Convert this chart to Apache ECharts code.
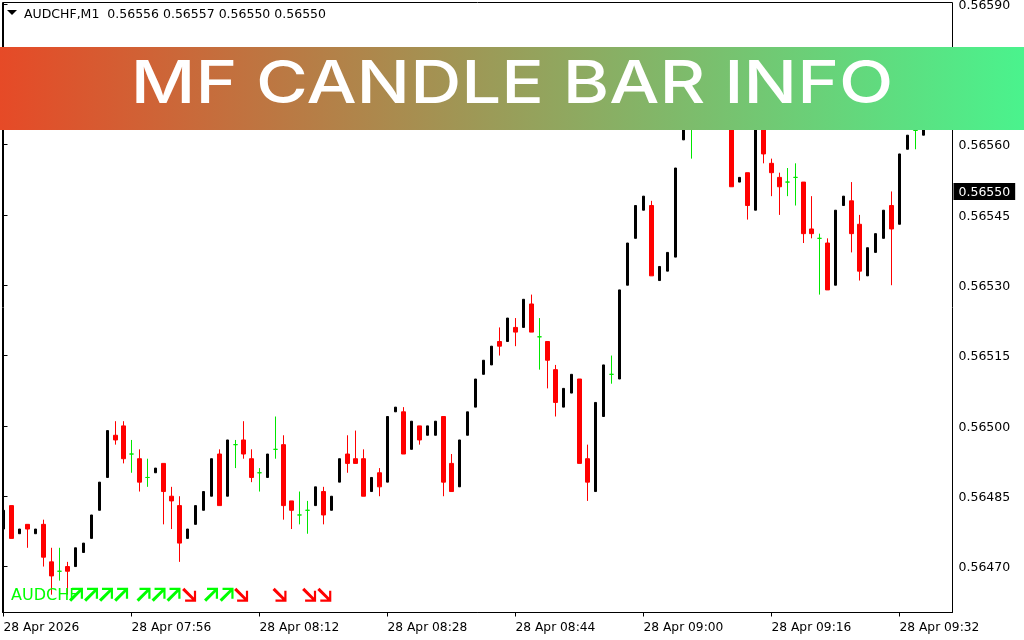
<!DOCTYPE html>
<html>
<head>
<meta charset="utf-8">
<title>MF Candle Bar Info</title>
<style>
html,body{margin:0;padding:0;background:#fff;}
#chart{width:1024px;height:640px;}
</style>
<script src="https://cdn.jsdelivr.net/npm/echarts@6/dist/echarts.min.js"></script>
</head>
<body>
<div id="chart"></div>
<script>
// one minute bars, 07:40 to 09:35
var opens = [0.56478,0.56483,0.56477,0.56479,0.56477,0.56479,0.56471,0.56469,0.56470,0.56470,
0.56473,0.56476,0.56482,0.56489,0.56498,0.56500,0.56494,0.56493,0.56489,0.56490,
0.56492,0.56485,0.56483,0.56476,0.56479,0.56482,0.56485,0.56494,0.56485,0.56496,
0.56497,0.56493,0.56490,0.56489,0.56495,0.56496,0.56484,0.56481,0.56482,0.56483,
0.56486,0.56482,0.56488,0.56494,0.56493,0.56493,0.56486,0.56490,0.56488,0.56503,
0.56503,0.56495,0.56500,0.56498,0.56498,0.56502,0.56492,0.56487,0.56498,0.56504,
0.56511,0.56513,0.56518,0.56518,0.56521,0.56521,0.56526,0.56519,0.56518,0.56512,
0.56504,0.56507,0.56510,0.56493,0.56486,0.56502,0.56511,0.56510,0.56530,0.56540,
0.56546,0.56547,0.56531,0.56533,0.56536,0.56561,0.56565,0.56572,0.56577,0.56570,
0.56574,0.56572,0.56552,0.56554,0.56546,0.56568,0.56556,0.56553,0.56552,0.56553,
0.56552,0.56542,0.56540,0.56539,0.56530,0.56547,0.56548,0.56543,0.56532,0.56537,
0.56540,0.56547,0.56543,0.56559,0.56563,0.56562];
var closes = [0.56482,0.56476,0.56478,0.56478,0.56478,0.56472,0.56468,0.56469,0.56469,0.56474,
0.56475,0.56481,0.56488,0.56499,0.56497,0.56493,0.56494,0.56488,0.56489,0.56491,
0.56486,0.56484,0.56475,0.56478,0.56483,0.56486,0.56493,0.56483,0.56497,0.56496,
0.56494,0.56489,0.56490,0.56494,0.56495,0.56483,0.56482,0.56481,0.56482,0.56487,
0.56481,0.56485,0.56493,0.56492,0.56492,0.56485,0.56489,0.56487,0.56502,0.56504,
0.56494,0.56501,0.56497,0.56500,0.56501,0.56488,0.56486,0.56497,0.56503,0.56510,
0.56514,0.56517,0.56517,0.56523,0.56520,0.56527,0.56520,0.56519,0.56514,0.56505,
0.56508,0.56511,0.56492,0.56488,0.56505,0.56513,0.56511,0.56529,0.56539,0.56547,
0.56549,0.56532,0.56534,0.56537,0.56555,0.56567,0.56565,0.56578,0.56570,0.56579,
0.56580,0.56551,0.56553,0.56547,0.56570,0.56558,0.56554,0.56551,0.56552,0.56553,
0.56541,0.56541,0.56540,0.56529,0.56546,0.56549,0.56541,0.56533,0.56538,0.56541,
0.56546,0.56542,0.56558,0.56562,0.56563,0.56565];
var lows = [0.56478,0.56476,0.56477,0.56474,0.56477,0.56470,0.56464,0.56467,0.56464,0.56470,
0.56473,0.56476,0.56482,0.56489,0.56496,0.56492,0.56490,0.56486,0.56487,0.56490,
0.56479,0.56478,0.56471,0.56476,0.56479,0.56482,0.56485,0.56483,0.56485,0.56491,
0.56493,0.56488,0.56486,0.56489,0.56493,0.56480,0.56478,0.56479,0.56477,0.56483,
0.56479,0.56482,0.56488,0.56490,0.56492,0.56485,0.56486,0.56485,0.56488,0.56503,
0.56494,0.56495,0.56496,0.56498,0.56498,0.56485,0.56486,0.56487,0.56498,0.56504,
0.56511,0.56513,0.56515,0.56518,0.56517,0.56521,0.56520,0.56512,0.56508,0.56502,
0.56504,0.56507,0.56492,0.56484,0.56486,0.56502,0.56509,0.56510,0.56530,0.56540,
0.56546,0.56532,0.56531,0.56533,0.56536,0.56561,0.56557,0.56572,0.56570,0.56570,
0.56574,0.56551,0.56552,0.56544,0.56546,0.56556,0.56549,0.56545,0.56549,0.56547,
0.56539,0.56540,0.56528,0.56529,0.56530,0.56547,0.56537,0.56531,0.56532,0.56537,
0.56540,0.56530,0.56543,0.56559,0.56559,0.56562];
var highs = [0.56482,0.56483,0.56478,0.56479,0.56478,0.56480,0.56474,0.56474,0.56471,0.56474,
0.56475,0.56481,0.56488,0.56499,0.56501,0.56501,0.56497,0.56495,0.56493,0.56491,
0.56492,0.56487,0.56485,0.56478,0.56483,0.56486,0.56493,0.56495,0.56497,0.56497,
0.56501,0.56495,0.56491,0.56494,0.56502,0.56498,0.56484,0.56486,0.56484,0.56487,
0.56487,0.56485,0.56493,0.56498,0.56499,0.56495,0.56489,0.56491,0.56502,0.56504,
0.56504,0.56501,0.56500,0.56500,0.56501,0.56502,0.56494,0.56497,0.56503,0.56510,
0.56514,0.56517,0.56521,0.56523,0.56523,0.56527,0.56528,0.56523,0.56518,0.56513,
0.56508,0.56511,0.56510,0.56496,0.56505,0.56513,0.56515,0.56529,0.56539,0.56547,
0.56549,0.56548,0.56534,0.56537,0.56555,0.56567,0.56575,0.56578,0.56577,0.56579,
0.56580,0.56572,0.56553,0.56554,0.56570,0.56570,0.56557,0.56554,0.56555,0.56556,
0.56552,0.56549,0.56541,0.56540,0.56546,0.56549,0.56552,0.56545,0.56538,0.56541,
0.56546,0.56550,0.56558,0.56562,0.56566,0.56565];

var priceTicks = [0.56470,0.56485,0.56500,0.56515,0.56530,0.56545,0.56560,0.56575,0.56590];
var timeTicks = [0,16,32,48,64,80,96,112];
var timeLabels = ['28 Apr 2026','28 Apr 07:56','28 Apr 08:12','28 Apr 08:28','28 Apr 08:44','28 Apr 09:00','28 Apr 09:16','28 Apr 09:32'];
var lastPrice = 0.56550;

// indicator row, positions in bars
var arrowUpBars = [9.06,10.94,12.81,14.7,17.5,19.38,21.25,25.94,27.88];
var arrowDownBars = [23.2,29.7,34.5,38.2,40.1];
var arrowPrice = 0.56464;

var UP_ARROW = 'path://M3 0H14V11H11.8V4.2L2.2 14L0 11.8L9.8 2.2H3Z';
var DOWN_ARROW = 'path://M2.2 0L11.8 9.8V3H14V14H3V11.8H9.8L0 2.2Z';
var FONT = '"DejaVu Sans"';

var upBars = [], downBars = [], dojiBars = [];
for (var i = 0; i < opens.length; i++) {
    var row = [i, opens[i], closes[i], lows[i], highs[i]];
    if (closes[i] > opens[i]) upBars.push(row);
    else if (closes[i] < opens[i]) downBars.push(row);
    else dojiBars.push(row);
}

function candleSeries(name, bars, width, colour) {
    return {
        name: name,
        type: 'candlestick',
        data: bars,
        encode: {x: 0, y: [1, 2, 3, 4]},
        barWidth: width,
        itemStyle: {
            color: colour, color0: colour, borderColor: colour, borderColor0: colour,
            borderColorDoji: colour, borderWidth: 1
        }
    };
}

function arrowSeries(bars, symbol, colour) {
    return {
        type: 'scatter',
        data: bars.map(function (b) { return [b, arrowPrice]; }),
        symbol: symbol,
        symbolSize: 14,
        itemStyle: {color: colour, opacity: 1}
    };
}

var myChart = echarts.init(document.getElementById('chart'));

var option = {
    animation: false,
    backgroundColor: '#ffffff',
    title: {
        text: 'AUDCHF,M1  0.56556 0.56557 0.56550 0.56550',
        left: 24, top: 8, padding: 0,
        textStyle: {fontFamily: FONT, fontSize: 12.5, fontWeight: 'normal', color: '#000000'}
    },
    grid: {
        show: true, left: 2.5, right: 71.5, top: 2.5, bottom: 27.5,
        outerBoundsMode: 'none',
        borderColor: '#000000', borderWidth: 1, backgroundColor: '#ffffff'
    },
    xAxis: {
        type: 'value', min: -0.125, max: 118.625,
        splitLine: {show: false},
        axisLine: {onZero: false, lineStyle: {color: '#000000'}},
        axisTick: {customValues: timeTicks, length: 4, lineStyle: {color: '#000000'}},
        axisLabel: {
            customValues: timeTicks, align: 'left', margin: 9,
            color: '#000000', fontFamily: FONT, fontSize: 12.25,
            formatter: function (v) { return timeLabels[timeTicks.indexOf(v)]; }
        }
    },
    yAxis: {
        type: 'value', position: 'right', min: 0.564602, max: 0.565903, scale: true,
        splitLine: {show: false},
        axisLine: {show: true, lineStyle: {color: '#000000'}},
        axisTick: {show: true, customValues: priceTicks, length: 4, lineStyle: {color: '#000000'}},
        axisLabel: {
            // last price goes through the same labels, as the black tag
            customValues: priceTicks.concat([lastPrice]), margin: 1,
            fontFamily: FONT, fontSize: 12.5,
            formatter: function (v) {
                return (v === lastPrice ? '{tag|' : '{price|') + v.toFixed(5) + '}';
            },
            rich: {
                price: {color: '#000000', fontFamily: FONT, fontSize: 12.5, padding: [3, 0, 0, 5]},
                tag: {color: '#ffffff', backgroundColor: '#000000', fontFamily: FONT, fontSize: 12.5, padding: [3, 5, 1, 5]}
            }
        }
    },
    series: [
        candleSeries('up', upBars, 2, '#000000'),
        candleSeries('down', downBars, 4, '#ff0000'),
        candleSeries('doji', dojiBars, 5, '#00e600'),
        arrowSeries(arrowUpBars, UP_ARROW, '#00ff00'),
        arrowSeries(arrowDownBars, DOWN_ARROW, '#ff0000')
    ],
    graphic: [
        {type: 'polygon', z: 50, shape: {points: [[7, 10], [17, 10], [12, 15]]}, style: {fill: '#000000'}},
        {type: 'text', z: 50, x: 11, y: 588, style: {text: 'AUDCHF', fill: '#00ff00', font: '16px ' + FONT}},
        {
            type: 'rect', z: 100, shape: {x: 0, y: 47, width: 1024, height: 83},
            style: {fill: new echarts.graphic.LinearGradient(0, 0, 1, 0, [
                {offset: 0, color: '#e64a27'}, {offset: 1, color: '#4af38d'}
            ])}
        },
        {
            type: 'text', z: 101, x: 512, y: 85, scaleX: 1.2,
            style: {text: 'MF CANDLE BAR INFO', fill: '#ffffff', font: '500 59px Inter', align: 'center', verticalAlign: 'middle'}
        }
    ]
};
myChart.setOption(option);
</script>
</body>
</html>
